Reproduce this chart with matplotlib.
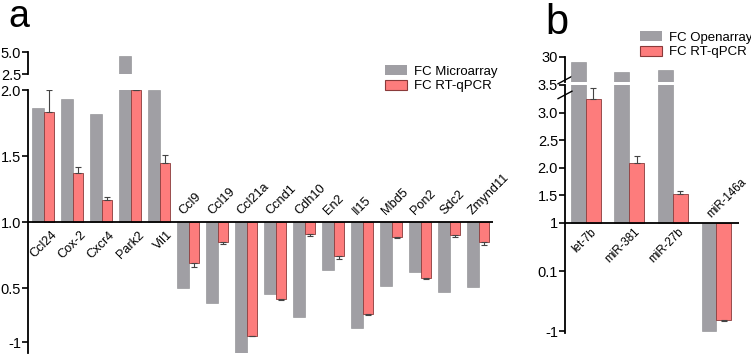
import numpy as np
import matplotlib
matplotlib.use("Agg")
import matplotlib.pyplot as plt
from matplotlib.patches import Patch

plt.rcParams['font.family'] = ['Liberation Sans', 'DejaVu Sans']

# panel a data (fold change)
genes = ['Ccl24', 'Cox-2', 'Cxcr4', 'Park2', 'Vil1', 'Ccl9', 'Ccl19', 'Ccl21a',
         'Ccnd1', 'Cdh10', 'En2', 'Il15', 'Mbd5', 'Pon2', 'Sdc2', 'Zmynd11']
fc_micro = [1.86, 1.93, 1.82, 4.55, 2.0, 0.5, 0.08, -1.3,
            0.33, -0.31, 0.64, -0.61, 0.52, 0.62, 0.39, 0.51]
fc_qpcr_a = [1.83, 1.37, 1.17, 2.0, 1.45, 0.69, 0.85, -0.83,
             0.19, 0.91, 0.74, -0.22, 0.885, 0.577, 0.9, 0.846]
err_a = [0.17, 0.046, 0.022, 0.0, 0.061, 0.03, 0.016, 0.0,
         0.03, 0.016, 0.023, 0.03, 0.005, 0.01, 0.015, 0.023]

# panel b data
mirs = ['let-7b', 'miR-381', 'miR-27b', 'miR-146a']
fc_open = [26.0, 18.0, 19.6, -1.0]
fc_qpcr_b = [3.25, 2.08, 1.53, -0.8]
err_b = [0.2, 0.14, 0.05, 0.01]

GRAY = '#a09fa4'
RED = '#fd7c7c'
REDEDGE = '#8a3a3a'

W, H = 751, 354
fig = plt.figure(figsize=(W / 100, H / 100), dpi=100)


def box(x0, y0, x1, y1):
    return [x0 / W, 1 - y1 / H, (x1 - x0) / W, (y1 - y0) / H]


# piecewise scales
a_v = [-5, 0.5, 10]
a_p = [0.5 - 5.5 * 0.2727, 0.5, 10]
b_v = [-3, -1, 0.1, 1, 40]
b_p = [-3.96, -1.971, -0.876, 0, 39]


def scale_a(ax):
    ax.set_yscale('function', functions=(lambda v: np.interp(v, a_v, a_p),
                                         lambda p: np.interp(p, a_p, a_v)))


def scale_b(ax):
    ax.set_yscale('function', functions=(lambda v: np.interp(v, b_v, b_p),
                                         lambda p: np.interp(p, b_p, b_v)))


def style(ax):
    for s in ['top', 'right', 'bottom']:
        ax.spines[s].set_visible(False)
    ax.spines['left'].set_linewidth(1.3)
    ax.tick_params(axis='y', direction='out', length=4, width=1.2, pad=1, labelsize=10.5)
    ax.set_xticks([])
    ax.patch.set_alpha(0)


def draw_bars(ax, vals1, vals2, errs, w1, w2, with_err=True):
    x = np.arange(len(vals1))
    v1 = np.array(vals1)
    v2 = np.array(vals2)
    ax.bar(x - w1 / 2, v1 - 1, bottom=1, width=w1, color=GRAY, edgecolor='#8a8a8e', lw=0.4)
    ax.bar(x + w2 / 2, v2 - 1, bottom=1, width=w2, color=RED, edgecolor=REDEDGE, lw=0.6)
    if with_err:
        e = np.array(errs)
        lo = np.where(v2 < 1, e, 0)
        hi = np.where(v2 >= 1, e, 0)
        ax.errorbar(x + w2 / 2, v2, yerr=[lo, hi], fmt='none', ecolor='#444444',
                    elinewidth=0.8, capsize=2.5, capthick=0.8)


# ---- panel a ----
axa = fig.add_axes(box(28, 90, 493, 353))
scale_a(axa)
draw_bars(axa, fc_micro, fc_qpcr_a, err_a, 0.4, 0.33)
axa.set_xlim(-0.55, 15.48)
axa.set_ylim(-1.3, 2.0)
axa.set_yticks([-1, 0.5, 1.0, 1.5, 2.0])
axa.set_yticklabels(['-1', '0.5', '1.0', '1.5', '2.0'])
axa.axhline(1, color='black', lw=1.3)
style(axa)
for i, (g, v) in enumerate(zip(genes, fc_micro)):
    if v >= 1:
        axa.text(i + 0.45, 0.90, g, rotation=45, rotation_mode='anchor',
                 ha='right', va='baseline', fontsize=9.2)
    else:
        axa.text(i - 0.21, 1.053, g, rotation=45, rotation_mode='anchor',
                 ha='left', va='baseline', fontsize=9.2)

axa_top = fig.add_axes(box(28, 52, 493, 74))
draw_bars(axa_top, fc_micro, fc_qpcr_a, err_a, 0.4, 0.33, with_err=False)
axa_top.set_xlim(-0.55, 15.48)
axa_top.set_ylim(2.5, 5.0)
axa_top.set_yticks([2.5, 5.0])
axa_top.set_yticklabels(['2.5', '5.0'])
style(axa_top)

fig.text(8 / W, 1 - 27 / H, 'a', fontsize=27)

# ---- panel b ----
axb = fig.add_axes(box(565, 85, 739, 333))
scale_b(axb)
draw_bars(axb, fc_open, fc_qpcr_b, err_b, 0.34, 0.34)
axb.set_xlim(-0.477, 3.52)
axb.set_ylim(-1.03, 3.5)
axb.set_yticks([-1, 0.1, 1, 1.5, 2.0, 2.5, 3.0, 3.5])
axb.set_yticklabels(['-1', '0.1', '1', '1.5', '2.0', '2.5', '3.0', '3.5'])
axb.axhline(1, color='black', lw=1.3)
style(axb)
for i, (m, v) in enumerate(zip(mirs, fc_open)):
    if v >= 1:
        axb.text(i + 0.25, 0.82, m, rotation=45, rotation_mode='anchor',
                 ha='right', va='baseline', fontsize=8.3)
    else:
        axb.text(i - 0.12, 1.09, m, rotation=45, rotation_mode='anchor',
                 ha='left', va='baseline', fontsize=8.3)

axb_top = fig.add_axes(box(565, 57, 739, 82))
draw_bars(axb_top, fc_open, fc_qpcr_b, err_b, 0.34, 0.34, with_err=False)
axb_top.set_xlim(-0.477, 3.52)
axb_top.set_ylim(10, 30)
axb_top.set_yticks([30])
axb_top.set_yticklabels(['30'])
style(axb_top)

# break marks on panel b spine
for yy in (-0.04, 0.02):
    axb.plot([-0.04, 0.04], [1 + yy - 0.015, 1 + yy + 0.015], transform=axb.transAxes,
             color='black', lw=1.0, clip_on=False)

fig.text(545 / W, 1 - 34 / H, 'b', fontsize=30)

# legends
fig.legend(handles=[Patch(facecolor=GRAY, edgecolor='none'),
                    Patch(facecolor=RED, edgecolor=REDEDGE, lw=0.8)],
           labels=['FC Microarray', 'FC RT-qPCR'], loc='upper left',
           bbox_to_anchor=(385 / W, 1 - 65 / H), frameon=False, fontsize=9.5,
           handlelength=1.7, handleheight=0.8, labelspacing=0.15,
           borderpad=0, borderaxespad=0, handletextpad=0.5)
fig.legend(handles=[Patch(facecolor=GRAY, edgecolor='none'),
                    Patch(facecolor=RED, edgecolor=REDEDGE, lw=0.8)],
           labels=['FC Openarray', 'FC RT-qPCR'], loc='upper left',
           bbox_to_anchor=(640 / W, 1 - 31 / H), frameon=False, fontsize=9.5,
           handlelength=1.7, handleheight=0.8, labelspacing=0.15,
           borderpad=0, borderaxespad=0, handletextpad=0.5)

fig.savefig('out.png', dpi=100)
